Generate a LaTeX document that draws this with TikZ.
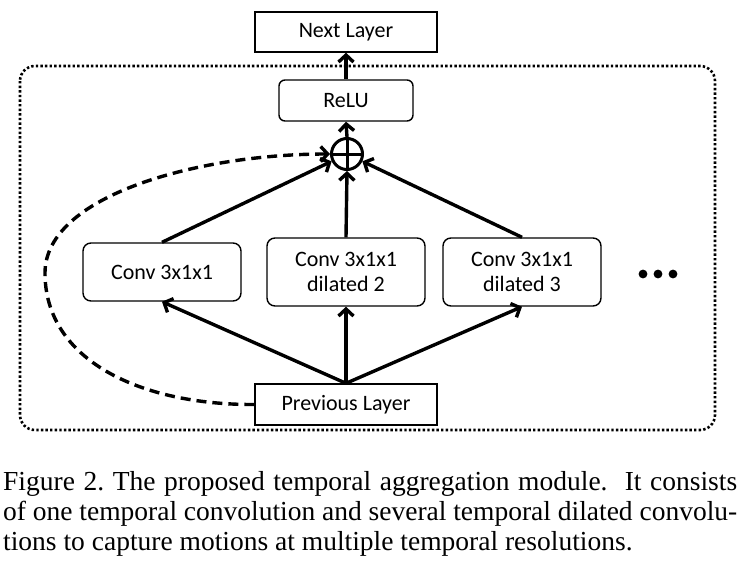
\documentclass[tikz,border=0pt]{standalone}
\usepackage{fontspec}
\setmainfont{Liberation Serif}
\newfontfamily\labelfont{Carlito}
\usetikzlibrary{arrows.meta}
\frenchspacing
\tikzset{
  layerbox/.style={draw, line width=1.4pt, minimum width=182pt, minimum height=40pt, inner sep=0pt, font=\labelfont\fontsize{22}{25}\selectfont, align=center},
  roundbox/.style={draw, line width=1.4pt, rounded corners=8pt, minimum width=158pt, inner sep=0pt, font=\labelfont\fontsize{22}{25}\selectfont, align=center},
  arr/.style={line width=3.4pt, -{Straight Barb[length=7pt,width=15pt]}},
  capline/.style={anchor=base west, inner sep=0pt, font=\fontsize{27.5}{30}\selectfont}
}
\begin{document}
\begin{tikzpicture}[x=1pt,y=-1pt]
\useasboundingbox (0,0) rectangle (739,571);
% dotted frame
\draw[line width=2.6pt, dash pattern=on 2.4pt off 2.2pt, rounded corners=15pt] (20,66) rectangle (715,430);
% nodes
\node[layerbox] (next) at (346,32) {Next Layer};
\node[roundbox, minimum width=134pt, minimum height=41pt, rounded corners=6pt] (relu) at (346,100.5) {ReLU};
\node[draw, circle, line width=3pt, minimum size=31pt, inner sep=0pt] (oplus) at (347,154) {};
\draw[line width=3pt] (oplus.north) -- (oplus.south) (oplus.west) -- (oplus.east);
\node[roundbox, minimum height=58pt] (conv1) at (162,272) {Conv 3x1x1};
\node[roundbox, minimum height=68pt] (conv2) at (346,272) {Conv 3x1x1\\dilated 2};
\node[roundbox, minimum height=68pt] (conv3) at (522,272) {Conv 3x1x1\\dilated 3};
\node[layerbox, minimum height=41pt] (prev) at (346,404.5) {Previous Layer};
% dots
\fill (643,274) circle (4.4pt);
\fill (658,274) circle (4.4pt);
\fill (673,274) circle (4.4pt);
% connectors
\draw[arr] (prev.north) -- (conv1.south);
\draw[arr] (prev.north) -- (conv2.south);
\draw[arr] (prev.north) -- (conv3.south);
\draw[arr] (conv1.north) -- (oplus);
\draw[arr] (conv2.north) -- (oplus.south);
\draw[arr] (conv3.north) -- (oplus);
\draw[arr] (oplus.north) -- (relu.south);
\draw[arr] (relu.north) -- (next.south);
\draw[arr, dash pattern=on 10pt off 6pt] (prev.west) .. controls (140,405) and (45,360) .. (45,273) .. controls (45,195) and (200,154) .. (oplus.west);
% caption
\node[capline] (cap1) at (3,490) {\makebox[734pt][s]{Figure 2. The proposed temporal aggregation module.\ \ It consists}};
\node[capline] (cap2) at (3,520) {\makebox[734pt][s]{of one temporal convolution and several temporal dilated convolu-}};
\node[capline] (cap3) at (3,550) {tions to capture motions at multiple temporal resolutions.};
\end{tikzpicture}
\end{document}
